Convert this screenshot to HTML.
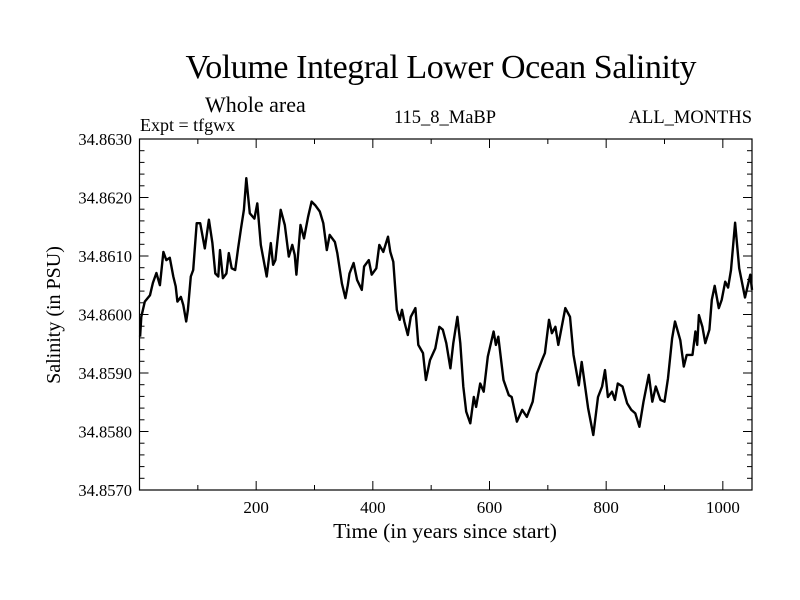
<!DOCTYPE html>
<html><head><meta charset="utf-8"><style>
body{margin:0;background:#fff}
svg{display:block}
text{font-family:"Liberation Serif",serif;fill:#000}
</style></head><body>
<svg id="chart" width="800" height="600">
<text x="441" y="78" font-size="34" text-anchor="middle" textLength="511">Volume Integral Lower Ocean Salinity</text>
<text x="205" y="112" font-size="22">Whole area</text>
<text x="140" y="131" font-size="18">Expt = tfgwx</text>
<text x="445" y="123" font-size="18.5" text-anchor="middle">115_8_MaBP</text>
<text x="752" y="123" font-size="18.5" text-anchor="end">ALL_MONTHS</text>
<text x="445" y="538" font-size="21.5" text-anchor="middle">Time (in years since start)</text>
<text x="0" y="0" font-size="20" text-anchor="middle" transform="translate(60,315) rotate(-90)">Salinity (in PSU)</text>
<g id="axes"></g>
<path id="series" fill="none" stroke="#000" stroke-width="2.4" stroke-linejoin="round"></path>
<rect x="139.5" y="139" width="612.5" height="351" fill="none" stroke="#000" stroke-width="1.2"></rect>
</svg>
<script>
const years=[1,3,9,18,23,29,35,41,46,52,58,62,65,71,75,80,83,88,92,98,104,112,119,125,130,135,138,143,149,153,158,164,169,174,179,183,189,197,202,208,218,225,229,233,242,249,256,262,266,269,276,282,289,295,301,309,315,321,326,335,339,347,353,357,360,367,373,381,385,393,398,406,411,418,426,430,435,441,446,450,454,460,465,473,478,486,491,498,507,514,520,526,533,538,545,550,555,560,567,573,577,584,590,597,607,611,615,624,633,638,647,656,664,674,681,690,695,702,707,713,718,730,738,744,753,758,769,778,786,793,798,803,810,815,820,828,836,843,850,857,864,873,879,885,893,900,906,913,918,927,933,938,948,953,956,959,965,970,977,981,986,993,998,1004,1009,1014,1021,1028,1038,1047,1050];
const salinity=[34.85962,34.85996,34.86022,34.86033,34.86054,34.86071,34.86050,34.86107,34.86093,34.86097,34.86065,34.86048,34.86022,34.86030,34.86016,34.85988,34.86008,34.86065,34.86076,34.86156,34.86156,34.86113,34.86162,34.86122,34.86070,34.86065,34.86110,34.86062,34.86070,34.86105,34.86079,34.86076,34.86113,34.86147,34.86179,34.86233,34.86173,34.86164,34.86190,34.86119,34.86065,34.86122,34.86085,34.86093,34.86179,34.86153,34.86099,34.86119,34.86102,34.86068,34.86153,34.86130,34.86167,34.86193,34.86187,34.86176,34.86156,34.86110,34.86136,34.86124,34.86105,34.86053,34.86028,34.86050,34.86070,34.86088,34.86059,34.86042,34.86082,34.86093,34.86068,34.86079,34.86119,34.86107,34.86133,34.86107,34.86090,34.86008,34.85991,34.86008,34.85988,34.85965,34.85996,34.86011,34.85948,34.85934,34.85888,34.85922,34.85942,34.85979,34.85974,34.85951,34.85908,34.85951,34.85996,34.85951,34.85877,34.85834,34.85814,34.85859,34.85842,34.85882,34.85868,34.85928,34.85971,34.85948,34.85962,34.85888,34.85862,34.85859,34.85817,34.85837,34.85825,34.85851,34.85899,34.85922,34.85934,34.85991,34.85968,34.85979,34.85948,34.86011,34.85996,34.85931,34.85879,34.85919,34.85840,34.85794,34.85859,34.85877,34.85905,34.85859,34.85868,34.85854,34.85882,34.85877,34.85848,34.85837,34.85831,34.85808,34.85851,34.85897,34.85851,34.85877,34.85854,34.85851,34.85891,34.85959,34.85988,34.85956,34.85911,34.85931,34.85931,34.85971,34.85948,34.85999,34.85979,34.85951,34.85974,34.86025,34.86049,34.86011,34.86025,34.86056,34.86046,34.86076,34.86157,34.86079,34.86029,34.86068,34.86042];
const xTickLabels=["200","400","600","800","1000"];
const xTickValues=[200,400,600,800,1000];
const yTickLabels=["34.8570","34.8580","34.8590","34.8600","34.8610","34.8620","34.8630"];
const yTickValues=[34.857,34.858,34.859,34.860,34.861,34.862,34.863];

const X0=139.5,X1=752,Y0=490,Y1=139,XMIN=0,XMAX=1050,YMIN=34.857,YMAX=34.863;
const sx=v=>X0+(v-XMIN)/(XMAX-XMIN)*(X1-X0);
const sy=v=>Y0-(v-YMIN)/(YMAX-YMIN)*(Y0-Y1);
const NS='http://www.w3.org/2000/svg';
const axes=document.getElementById('axes');
function ln(x1,y1,x2,y2){const l=document.createElementNS(NS,'line');l.setAttribute('x1',x1);l.setAttribute('y1',y1);l.setAttribute('x2',x2);l.setAttribute('y2',y2);l.setAttribute('stroke','#000');l.setAttribute('stroke-width','1');axes.appendChild(l);return l;}
for(let v=100;v<XMAX;v+=100){const maj=v%200===0;const len=maj?9:5;const x=sx(v);
 const a=ln(x,Y0,x,Y0-len);
 
 
 const b=ln(x,Y1,x,Y1+len);
 
 }
for(let i=1;i<30;i++){const v=YMIN+i*0.0002;const maj=i%5===0;const len=maj?9:5;const y=sy(v);
 const a=ln(X0,y,X0+len,y);
 
 
 const b=ln(X1,y,X1-len,y);
 
 }
xTickLabels.forEach((s,i)=>{const t=document.createElementNS(NS,'text');t.setAttribute('x',sx(xTickValues[i]));t.setAttribute('y',513);t.setAttribute('font-size','17');t.setAttribute('text-anchor','middle');t.textContent=s;
 
 
 axes.appendChild(t);});
yTickLabels.forEach((s,i)=>{const t=document.createElementNS(NS,'text');t.setAttribute('x',132);t.setAttribute('y',sy(yTickValues[i])+6);t.setAttribute('font-size','16.5');t.setAttribute('text-anchor','end');t.textContent=s;
 
 
 axes.appendChild(t);});
let d='';years.forEach((yr,i)=>{d+=(i?'L':'M')+sx(yr).toFixed(1)+','+sy(salinity[i]).toFixed(1);});
document.getElementById('series').setAttribute('d',d);
</script>
</body></html>
